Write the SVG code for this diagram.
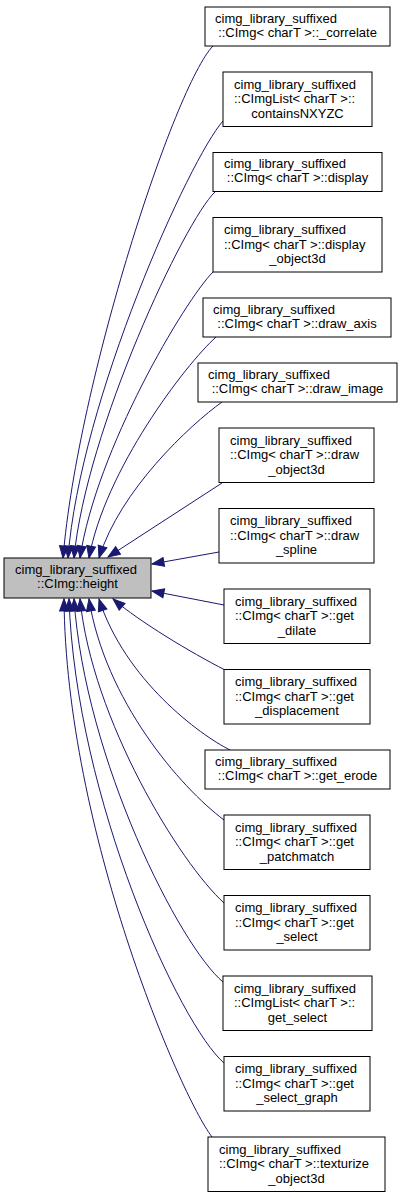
<svg xmlns="http://www.w3.org/2000/svg" width="401" height="1198" viewBox="0 0 401 1198">
<style>
.n rect{fill:#fff;stroke:#000;stroke-width:1}
.n.root rect{fill:#bfbfbf}
text{font-family:"Liberation Sans",Arial,sans-serif;font-size:13px;fill:#000}
.c{text-anchor:middle}
.e path{fill:none;stroke:#191970;stroke-width:1;marker-end:url(#ah)}
</style>
<defs>
<marker id="ah" markerUnits="userSpaceOnUse" markerWidth="14" markerHeight="10" refX="12" refY="4.5" orient="auto" overflow="visible">
<path d="M0,0 L12,4.5 L0,9 z" fill="#191970" stroke="#191970" stroke-width="1"/>
</marker>
</defs>
<rect width="401" height="1198" fill="#fff"/>
<g id="edges" class="e">
<path d="M213,46 C175,85 78,380 63,558"/>
<path d="M223,121 C190,158 80,400 68,558"/>
<path d="M215,192 C185,220 86,430 74,558"/>
<path d="M213,272 C185,300 96,450 80,558"/>
<path d="M216,337 C185,365 105,470 89,558"/>
<path d="M222,402 C190,425 120,490 99,558"/>
<path d="M222,483 L108,557"/>
<path d="M219,552 L152,564"/>
<path d="M224,605 L152,591"/>
<path d="M225,670 C190,652 140,622 113,599"/>
<path d="M230,750 C200,735 125,680 99,599"/>
<path d="M224,820 C180,787 105,700 89,599"/>
<path d="M224,903 C180,863 92,720 80,599"/>
<path d="M223,982 C180,946 85,760 74,599"/>
<path d="M224,1063 C180,1025 76,800 69,599"/>
<path d="M212,1137 C180,1095 66,830 64,599"/>
</g>
<g id="node_height" class="n root">
<rect x="4" y="558" width="147" height="40"/>
<text x="15" y="573.5">cimg_library_suffixed</text>
<text x="77.5" y="587.5" class="c">::CImg::height</text>
</g>
<g id="node_correlate" class="n">
<rect x="205" y="7" width="185" height="39"/>
<text x="215" y="22.5">cimg_library_suffixed</text>
<text x="297.5" y="36.5" class="c">::CImg&lt; charT &gt;::_correlate</text>
</g>
<g id="node_containsNXYZC" class="n">
<rect x="223" y="72" width="149" height="54.5"/>
<text x="234" y="88.5">cimg_library_suffixed</text>
<text x="234" y="103">::CImgList&lt; charT &gt;::</text>
<text x="297.5" y="117.5" class="c">containsNXYZC</text>
</g>
<g id="node_display" class="n">
<rect x="213" y="152.5" width="169" height="39"/>
<text x="224" y="168">cimg_library_suffixed</text>
<text x="297.5" y="182" class="c">::CImg&lt; charT &gt;::display</text>
</g>
<g id="node_display_object3d" class="n">
<rect x="213" y="217.5" width="169" height="54.5"/>
<text x="224" y="234">cimg_library_suffixed</text>
<text x="224" y="248.5">::CImg&lt; charT &gt;::display</text>
<text x="297.5" y="263" class="c">_object3d</text>
</g>
<g id="node_draw_axis" class="n">
<rect x="203" y="298" width="188" height="39"/>
<text x="213" y="313.5">cimg_library_suffixed</text>
<text x="297" y="327.5" class="c">::CImg&lt; charT &gt;::draw_axis</text>
</g>
<g id="node_draw_image" class="n">
<rect x="198" y="363" width="199" height="39"/>
<text x="208" y="378.5">cimg_library_suffixed</text>
<text x="297.5" y="392.5" class="c">::CImg&lt; charT &gt;::draw_image</text>
</g>
<g id="node_draw_object3d" class="n">
<rect x="219" y="428" width="155" height="54.5"/>
<text x="230" y="444.5">cimg_library_suffixed</text>
<text x="230" y="459">::CImg&lt; charT &gt;::draw</text>
<text x="296.5" y="473.5" class="c">_object3d</text>
</g>
<g id="node_draw_spline" class="n">
<rect x="219" y="508.5" width="155" height="54.5"/>
<text x="230" y="525">cimg_library_suffixed</text>
<text x="230" y="539.5">::CImg&lt; charT &gt;::draw</text>
<text x="296.5" y="554" class="c">_spline</text>
</g>
<g id="node_get_dilate" class="n">
<rect x="224" y="589" width="146" height="54.5"/>
<text x="235" y="605.5">cimg_library_suffixed</text>
<text x="235" y="620">::CImg&lt; charT &gt;::get</text>
<text x="297" y="634.5" class="c">_dilate</text>
</g>
<g id="node_get_displacement" class="n">
<rect x="224" y="669.5" width="146" height="54.5"/>
<text x="235" y="686">cimg_library_suffixed</text>
<text x="235" y="700.5">::CImg&lt; charT &gt;::get</text>
<text x="297" y="715" class="c">_displacement</text>
</g>
<g id="node_get_erode" class="n">
<rect x="205" y="750" width="185" height="39"/>
<text x="215" y="765.5">cimg_library_suffixed</text>
<text x="297.5" y="779.5" class="c">::CImg&lt; charT &gt;::get_erode</text>
</g>
<g id="node_get_patchmatch" class="n">
<rect x="224" y="815" width="146" height="54.5"/>
<text x="235" y="831.5">cimg_library_suffixed</text>
<text x="235" y="846">::CImg&lt; charT &gt;::get</text>
<text x="297" y="860.5" class="c">_patchmatch</text>
</g>
<g id="node_get_select" class="n">
<rect x="224" y="895.5" width="146" height="54.5"/>
<text x="235" y="912">cimg_library_suffixed</text>
<text x="235" y="926.5">::CImg&lt; charT &gt;::get</text>
<text x="297" y="941" class="c">_select</text>
</g>
<g id="node_list_get_select" class="n">
<rect x="223" y="976" width="149" height="54.5"/>
<text x="234" y="992.5">cimg_library_suffixed</text>
<text x="234" y="1007">::CImgList&lt; charT &gt;::</text>
<text x="297.5" y="1021.5" class="c">get_select</text>
</g>
<g id="node_get_select_graph" class="n">
<rect x="224" y="1056.5" width="146" height="54.5"/>
<text x="235" y="1073">cimg_library_suffixed</text>
<text x="235" y="1087.5">::CImg&lt; charT &gt;::get</text>
<text x="297" y="1102" class="c">_select_graph</text>
</g>
<g id="node_texturize_object3d" class="n">
<rect x="208" y="1137" width="177" height="54.5"/>
<text x="219" y="1153.5">cimg_library_suffixed</text>
<text x="219" y="1168">::CImg&lt; charT &gt;::texturize</text>
<text x="296.5" y="1182.5" class="c">_object3d</text>
</g>
</svg>
